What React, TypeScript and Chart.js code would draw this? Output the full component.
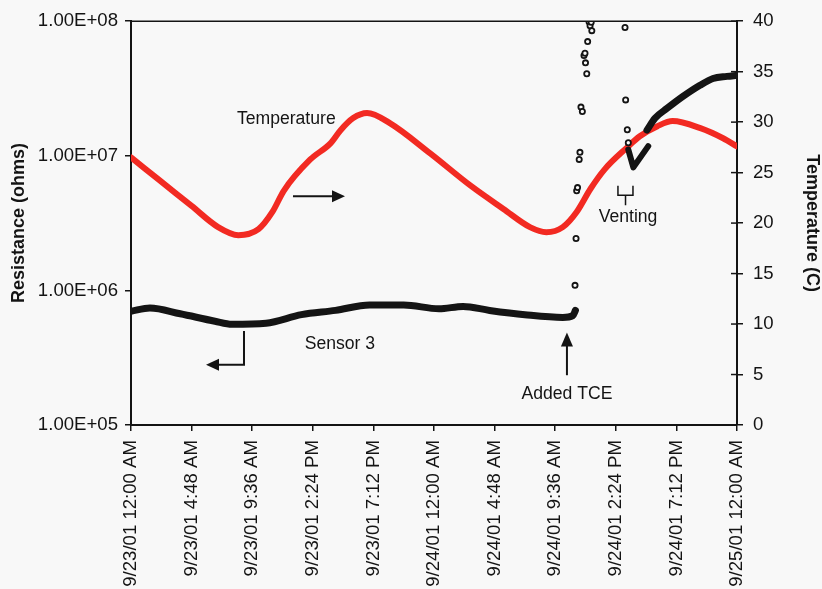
import React, { useEffect, useRef } from 'react';
import { Chart, registerables } from 'chart.js';

Chart.register(...registerables);

const FONT = "'Liberation Sans', Arial, Helvetica, sans-serif";
const INK = '#141414';
const BG = '#f8f8f8';
const RED = '#f22a22';

// X axis is measured in hours after 9/23/01 12:00 AM
const xTickHours = [0, 4.8, 9.6, 14.4, 19.2, 24, 28.8, 33.6, 38.4, 43.2, 48];
const xTickLabels = [
  '9/23/01 12:00 AM',
  '9/23/01 4:48 AM',
  '9/23/01 9:36 AM',
  '9/23/01 2:24 PM',
  '9/23/01 7:12 PM',
  '9/24/01 12:00 AM',
  '9/24/01 4:48 AM',
  '9/24/01 9:36 AM',
  '9/24/01 2:24 PM',
  '9/24/01 7:12 PM',
  '9/25/01 12:00 AM',
];
const resistanceTicks = [1e5, 1e6, 1e7, 1e8];
const resistanceTickLabels = ['1.00E+05', '1.00E+06', '1.00E+07', '1.00E+08'];
const temperatureTicks = [0, 5, 10, 15, 20, 25, 30, 35, 40];

// Temperature (C), right axis
const temperatureHours = [0, 2.2, 4.8, 6.9, 8.5, 10.1, 11.2, 12.1, 14.2, 15.8, 16.6, 17.6, 18.7, 20.5, 23.7, 26.9, 29.5, 31.6, 32.9, 34.2, 35.3, 36.4, 37.5, 39.3, 40.3, 41.7, 42.9, 45.1, 46.9, 48];
const temperatureValues = [26.5, 24.3, 21.7, 19.6, 18.8, 19.4, 21.1, 23.2, 26.3, 27.9, 29.2, 30.4, 30.9, 29.9, 26.9, 23.7, 21.4, 19.6, 19.1, 19.6, 21.1, 23.4, 25.3, 27.5, 28.6, 29.6, 30.1, 29.4, 28.4, 27.6];

// Sensor 3 resistance (ohms), left axis - before TCE
const sensorHours = [0, 1.5, 3.9, 6.65, 8.0, 10.7, 13.5, 16.2, 18.9, 21.6, 24.4, 26.3, 28.4, 31.2, 34.2, 35.0, 35.2];
const sensorOhms = [7.0e5, 7.4e5, 6.7e5, 5.9e5, 5.6e5, 5.7e5, 6.6e5, 7.1e5, 7.8e5, 7.8e5, 7.3e5, 7.6e5, 7.1e5, 6.6e5, 6.3e5, 6.5e5, 7.1e5];

// Scattered readings after TCE was added
const spikeHours = [35.17, 35.25, 35.3, 35.37, 35.5, 35.56, 35.64, 35.75, 35.88, 35.96, 36.0, 36.1, 36.17, 36.28, 36.36, 36.45, 36.5, 39.13, 39.18, 39.31, 39.39];
const spikeOhms = [1.09e6, 2.43e6, 5.5e6, 5.8e6, 9.4e6, 1.06e7, 2.3e7, 2.13e7, 5.56e7, 5.78e7, 4.9e7, 4.07e7, 7.05e7, 9.9e7, 9.25e7, 9.8e7, 8.5e7, 8.98e7, 2.6e7, 1.56e7, 1.25e7];

// Venting dip
const ventHours = [39.39, 39.79, 40.97];
const ventOhms = [1.11e7, 8.2e6, 1.18e7];

// Recovery after venting
const recoveryHours = [40.87, 41.5, 42.46, 43.72, 45.07, 46.1, 47.2, 48];
const recoveryOhms = [1.55e7, 1.9e7, 2.25e7, 2.76e7, 3.34e7, 3.75e7, 3.89e7, 3.96e7];

// Annotations, in data units (hours, temperature axis)
const labelTemperature = { text: 'Temperature', h: 12.3, t: 30.3 };
const arrowTemperature = { h0: 12.83, h1: 16.95, t: 22.65 };
const labelSensor = { text: 'Sensor 3', h: 16.55, t: 8.0 };
const arrowSensor = { h: 8.95, t0: 9.31, t1: 5.98, hTip: 5.94 };
const labelTce = { text: 'Added TCE', h: 34.53, t: 3.1 };
const arrowTce = { h: 34.53, tTip: 9.16, tBase: 4.93 };
const labelVenting = { text: 'Venting', h: 39.37, t: 20.6 };
const bracketVenting = { h0: 38.57, h1: 39.76, hStem: 39.17, tTop: 23.7, tMid: 22.75, tBottom: 21.76 };

const toXY = (xs: number[], ys: number[]) => xs.map((x, i) => ({ x, y: ys[i] }));

const fillTriangle = (ctx: CanvasRenderingContext2D, pts: number[][]) => {
  ctx.beginPath();
  ctx.moveTo(pts[0][0], pts[0][1]);
  ctx.lineTo(pts[1][0], pts[1][1]);
  ctx.lineTo(pts[2][0], pts[2][1]);
  ctx.closePath();
  ctx.fill();
};

const decorPlugin = {
  id: 'decor',
  beforeDraw(chart: any) {
    const { ctx, width, height } = chart;
    ctx.save();
    ctx.fillStyle = BG;
    ctx.fillRect(0, 0, width, height);
    ctx.restore();
  },
  afterDraw(chart: any) {
    const { ctx, chartArea } = chart;
    const xs = chart.scales.x;
    const ts = chart.scales.y1;
    const px = (h: number) => xs.getPixelForValue(h);
    const py = (t: number) => ts.getPixelForValue(t);
    ctx.save();
    ctx.strokeStyle = INK;
    ctx.fillStyle = INK;
    // top border of plot
    ctx.lineWidth = 1.5;
    ctx.beginPath();
    ctx.moveTo(chartArea.left, chartArea.top);
    ctx.lineTo(chartArea.right, chartArea.top);
    ctx.stroke();
    // right axis ticks cross the axis
    ctx.lineWidth = 1.5;
    temperatureTicks.forEach((t) => {
      const y = py(t);
      ctx.beginPath();
      ctx.moveTo(chartArea.right - 6, y);
      ctx.lineTo(chartArea.right, y);
      ctx.stroke();
    });
    // texts
    ctx.font = `17.6px ${FONT}`;
    ctx.textAlign = 'center';
    ctx.textBaseline = 'middle';
    [labelTemperature, labelSensor, labelTce, labelVenting].forEach((l) => {
      ctx.fillText(l.text, px(l.h), py(l.t));
    });
    ctx.lineWidth = 2;
    // temperature arrow (to right axis)
    {
      const x0 = px(arrowTemperature.h0);
      const x1 = px(arrowTemperature.h1);
      const y = py(arrowTemperature.t);
      ctx.beginPath();
      ctx.moveTo(x0, y);
      ctx.lineTo(x1 - 10, y);
      ctx.stroke();
      fillTriangle(ctx, [[x1, y], [x1 - 13, y - 6], [x1 - 13, y + 6]]);
    }
    // sensor arrow (to left axis)
    {
      const x = px(arrowSensor.h);
      const y0 = py(arrowSensor.t0);
      const y1 = py(arrowSensor.t1);
      const xt = px(arrowSensor.hTip);
      ctx.beginPath();
      ctx.moveTo(x, y0);
      ctx.lineTo(x, y1);
      ctx.lineTo(xt + 10, y1);
      ctx.stroke();
      fillTriangle(ctx, [[xt, y1], [xt + 13, y1 - 6], [xt + 13, y1 + 6]]);
    }
    // added TCE arrow
    {
      const x = px(arrowTce.h);
      const yt = py(arrowTce.tTip);
      const yb = py(arrowTce.tBase);
      ctx.beginPath();
      ctx.moveTo(x, yb);
      ctx.lineTo(x, yt + 10);
      ctx.stroke();
      fillTriangle(ctx, [[x, yt], [x - 6, yt + 14], [x + 6, yt + 14]]);
    }
    // venting bracket
    {
      const xa = px(bracketVenting.h0);
      const xb = px(bracketVenting.h1);
      const xm = px(bracketVenting.hStem);
      const yT = py(bracketVenting.tTop);
      const yM = py(bracketVenting.tMid);
      const yB = py(bracketVenting.tBottom);
      ctx.lineWidth = 1.5;
      ctx.beginPath();
      ctx.moveTo(xa, yT);
      ctx.lineTo(xa, yM);
      ctx.lineTo(xb, yM);
      ctx.lineTo(xb, yT);
      ctx.moveTo(xm, yM);
      ctx.lineTo(xm, yB);
      ctx.stroke();
    }
    ctx.restore();
  },
};

export default function App() {
  const canvasRef = useRef<HTMLCanvasElement | null>(null);

  useEffect(() => {
    const canvas = canvasRef.current;
    if (!canvas) return;
    const tickFont = { family: FONT, size: 18.6 };
    const titleFont = { family: FONT, size: 18, weight: 'bold' as const, lineHeight: 1 };

    const chart = new Chart(canvas, {
      type: 'line',
      data: {
        datasets: [
          {
            label: 'Sensor 3',
            data: toXY(sensorHours, sensorOhms),
            yAxisID: 'y',
            borderColor: INK,
            borderWidth: 7,
            pointRadius: 0,
            cubicInterpolationMode: 'monotone',
            borderCapStyle: 'round',
            borderJoinStyle: 'round',
          },
          {
            label: 'Sensor 3 spike',
            data: toXY(spikeHours, spikeOhms),
            yAxisID: 'y',
            showLine: false,
            pointRadius: 2.6,
            pointBorderWidth: 1.8,
            pointBorderColor: INK,
            pointBackgroundColor: BG,
          },
          {
            label: 'Sensor 3 venting',
            data: toXY(ventHours, ventOhms),
            yAxisID: 'y',
            borderColor: INK,
            borderWidth: 6,
            pointRadius: 0,
            borderCapStyle: 'round',
            borderJoinStyle: 'round',
          },
          {
            label: 'Sensor 3 recovery',
            data: toXY(recoveryHours, recoveryOhms),
            yAxisID: 'y',
            borderColor: INK,
            borderWidth: 7,
            pointRadius: 0,
            cubicInterpolationMode: 'monotone',
            borderCapStyle: 'round',
            borderJoinStyle: 'round',
          },
          {
            label: 'Temperature',
            data: toXY(temperatureHours, temperatureValues),
            yAxisID: 'y1',
            borderColor: RED,
            borderWidth: 6,
            pointRadius: 0,
            cubicInterpolationMode: 'monotone',
            borderCapStyle: 'round',
          },
        ],
      },
      options: {
        responsive: false,
        animation: false,
        events: [],
        layout: { padding: { top: 17, left: 0, right: 0, bottom: 0 } },
        plugins: {
          legend: { display: false },
          tooltip: { enabled: false },
        },
        scales: {
          x: {
            type: 'linear',
            position: 'bottom',
            min: 0,
            max: 48,
            afterBuildTicks: (s: any) => {
              s.ticks = xTickHours.map((v) => ({ value: v }));
            },
            afterFit: (s: any) => {
              s.height = 164;
            },
            ticks: {
              autoSkip: false,
              minRotation: 90,
              maxRotation: 90,
              padding: 9,
              color: INK,
              font: tickFont,
              callback: (_v: any, i: number) => xTickLabels[i],
            },
            grid: { drawOnChartArea: false, drawTicks: true, tickLength: 6, color: INK, lineWidth: 1.5 },
            border: { display: true, color: INK, width: 2 },
          },
          y: {
            type: 'logarithmic',
            position: 'left',
            min: 1e5,
            max: 1e8,
            afterBuildTicks: (s: any) => {
              s.ticks = resistanceTicks.map((v) => ({ value: v }));
            },
            afterFit: (s: any) => {
              s.width = 131;
            },
            ticks: {
              padding: 7,
              color: INK,
              font: tickFont,
              callback: (_v: any, i: number) => resistanceTickLabels[i],
            },
            title: {
              display: true,
              text: 'Resistance (ohms)',
              color: INK,
              font: titleFont,
              padding: { top: 10, bottom: 0 },
            },
            grid: { drawOnChartArea: false, drawTicks: true, tickLength: 6, color: INK, lineWidth: 1.5 },
            border: { display: true, color: INK, width: 2 },
          },
          y1: {
            type: 'linear',
            position: 'right',
            min: 0,
            max: 40,
            afterBuildTicks: (s: any) => {
              s.ticks = temperatureTicks.map((v) => ({ value: v }));
            },
            afterFit: (s: any) => {
              s.width = 85;
            },
            ticks: {
              padding: 10,
              color: INK,
              font: tickFont,
              callback: (v: any) => String(v),
            },
            title: {
              display: true,
              text: 'Temperature (C)',
              color: INK,
              font: titleFont,
              padding: { top: 1, bottom: 0 },
            },
            grid: { drawOnChartArea: false, drawTicks: true, tickLength: 6, color: INK, lineWidth: 1.5 },
            border: { display: true, color: INK, width: 2 },
          },
        },
      } as any,
      plugins: [decorPlugin],
    });

    return () => {
      chart.destroy();
    };
  }, []);

  return (
    <div style={{ position: 'fixed', left: 0, top: 0, width: 822, height: 589, background: BG, overflow: 'hidden' }}>
      <canvas ref={canvasRef} width={822} height={589} style={{ display: 'block', width: 822, height: 589 }} />
    </div>
  );
}
